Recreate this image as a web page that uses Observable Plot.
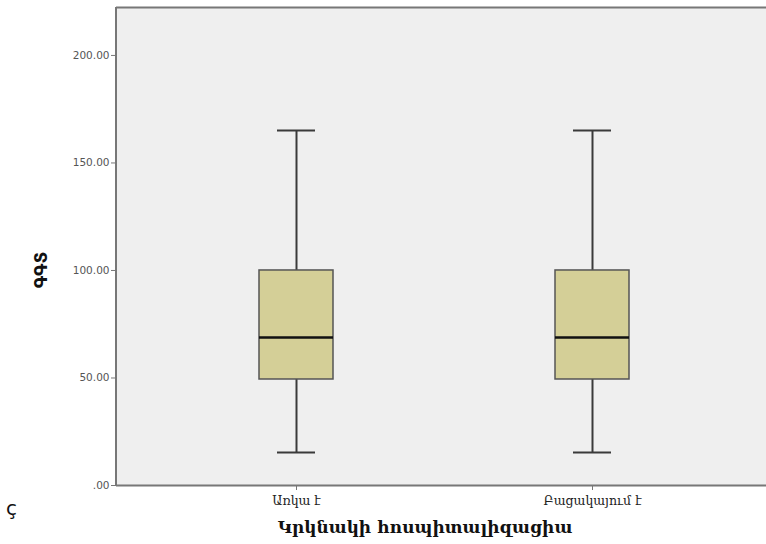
<!DOCTYPE html>
<html>
<head>
<meta charset="utf-8">
<script src="https://cdn.jsdelivr.net/npm/d3@7"></script>
<script src="https://cdn.jsdelivr.net/npm/@observablehq/plot@0.6"></script>
<style>
  html, body { margin: 0; padding: 0; background: #fff; }
  #chart { position: relative; width: 766px; height: 544px; }
  .stray { position: absolute; left: 6px; top: 496px; font: 20px "DejaVu Sans", sans-serif; color: #111; }
</style>
</head>
<body>
<div id="chart"><span class="stray">ç</span></div>
<script>
const categories = ["Առկա է", "Բացակայում է"];
const minimum = [15.3, 15.3];
const q1 = [49.3, 49.3];
const median = [68.8, 68.8];
const q3 = [100, 100];
const maximum = [165.1, 165.1];
const yTicks = [0, 50, 100, 150, 200];

const rows = categories.map((c, i) => ({
  cat: c, min: minimum[i], q1: q1[i], med: median[i], q3: q3[i], max: maximum[i]
}));

const armenian = "'DejaVu Serif', 'DejaVu Sans', serif";

const plot = Plot.plot({
  width: 766,
  height: 544,
  marginLeft: 116,
  marginRight: 0,
  marginTop: 7,
  marginBottom: 59,
  style: { background: "#fff", fontFamily: "'DejaVu Sans', sans-serif" },
  x: { domain: categories, range: [148, 740], padding: 0, label: null },
  y: { domain: [0, 222.3], label: null },
  marks: [
    Plot.frame({ fill: "#efefef", stroke: "none" }),
    Plot.ruleX(rows, { x: "cat", y1: "min", y2: "q1", stroke: "#3a3a3a", strokeWidth: 2 }),
    Plot.ruleX(rows, { x: "cat", y1: "q3", y2: "max", stroke: "#3a3a3a", strokeWidth: 2 }),
    Plot.tickY(rows, { x: "cat", y: "min", stroke: "#3a3a3a", strokeWidth: 2, insetLeft: 129, insetRight: 129 }),
    Plot.tickY(rows, { x: "cat", y: "max", stroke: "#3a3a3a", strokeWidth: 2, insetLeft: 129, insetRight: 129 }),
    Plot.barY(rows, { x: "cat", y1: "q1", y2: "q3", fill: "#d4cf97", stroke: "#555", strokeWidth: 1.5, insetLeft: 111, insetRight: 111 }),
    Plot.tickY(rows, { x: "cat", y: "med", stroke: "#111", strokeWidth: 2.5, insetLeft: 111, insetRight: 111 }),
    Plot.axisY({ ticks: yTicks, tickFormat: d => d === 0 ? ".00" : d.toFixed(2), tickSize: 5, tickPadding: 2, fontSize: 10.5, stroke: "#777", fill: "#555", label: null }),
    Plot.axisX({ tickSize: 5, tickPadding: 6, fontSize: 12.5, fontFamily: armenian, stroke: "#777", fill: "#222", label: null }),
    Plot.ruleY([0], { stroke: "#777", strokeWidth: 2 }),
    Plot.ruleY([222.3], { stroke: "#777", strokeWidth: 2 })
  ]
});

const svg = d3.select(plot);
// Left border of the plot frame
svg.append("line")
  .attr("x1", 116).attr("x2", 116).attr("y1", 7).attr("y2", 486)
  .attr("stroke", "#777").attr("stroke-width", 2);
// Axis titles
svg.append("text")
  .attr("x", 425).attr("y", 533)
  .attr("text-anchor", "middle")
  .attr("font-family", armenian)
  .attr("font-weight", "bold")
  .attr("font-size", 17)
  .attr("fill", "#111")
  .text("Կրկնակի հոսպիտալիզացիա");
svg.append("text")
  .attr("transform", "translate(47,270) rotate(-90)")
  .attr("text-anchor", "middle")
  .attr("font-family", "'DejaVu Sans', sans-serif")
  .attr("font-weight", "bold")
  .attr("font-size", 17)
  .attr("fill", "#111")
  .text("ԳԳՏ");

document.getElementById("chart").appendChild(plot);
</script>
</body>
</html>
